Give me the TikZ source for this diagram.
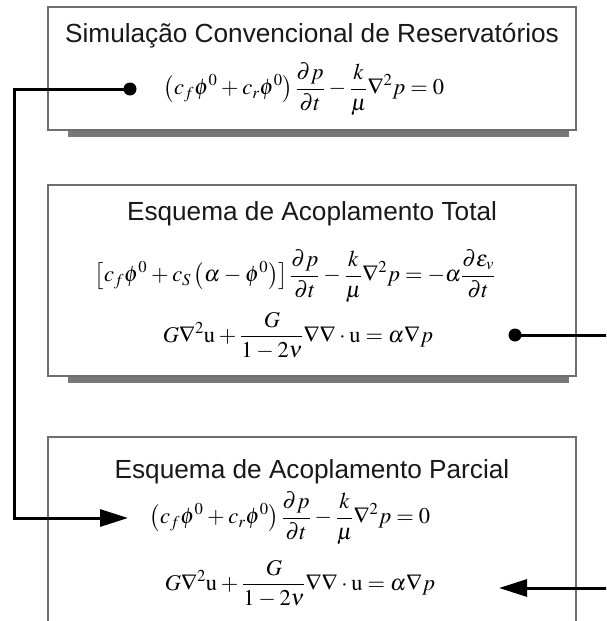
\documentclass[tikz,border=0pt]{standalone}
\usepackage{mathptmx}
\usepackage[no-math]{fontspec}
\newfontfamily\sansf{Liberation Sans}
\usetikzlibrary{arrows.meta}
\definecolor{boxgray}{RGB}{110,110,110}
\definecolor{shadowgray}{RGB}{120,120,120}
\newcommand{\tightmath}{\medmuskip=3mu plus 1mu minus 1mu\relax\thickmuskip=4mu plus 2mu\relax}
\begin{document}
\begin{tikzpicture}[x=1pt,y=-1pt,
  panel/.style={draw=boxgray, line width=1.5pt, fill=white, inner sep=0pt, rectangle},
  titletext/.style={font=\sansf\fontsize{26.2}{30}\selectfont, anchor=base, inner sep=0pt, text=black!90},
  eqn/.style={font=\fontsize{22.5}{26}\selectfont, inner sep=0pt, anchor=center},
  conn/.style={line width=3pt, black},
  arr/.style={conn, -{Triangle[length=28pt,width=17pt]}},
  dotmark/.style={fill=black}
]
\useasboundingbox (0,0) rectangle (606,621);
\clip (0,0) rectangle (606,621);
% shadows
\fill[shadowgray] (68,131) rectangle (569,137);
\fill[shadowgray] (68,377) rectangle (569,383);
% boxes
\node[panel, minimum width=528pt, minimum height=123pt] (b1) at (312,68.5) {};
\node[panel, minimum width=528pt, minimum height=191pt] (b2) at (312,280.5) {};
\node[panel, minimum width=528pt, minimum height=190pt] (b3) at (312,532) {};
% titles
\node[titletext] (t1) at (312,42) {Simulação Convencional de Reservatórios};
\node[titletext] (t2) at (312,220) {Esquema de Acoplamento Total};
\node[titletext] (t3) at (312,478) {Esquema de Acoplamento Parcial};
% equations
\node[eqn] (e1) at (304,89) {\tightmath$\displaystyle \left(c_f\phi^0+c_r\phi^0\right)\frac{\partial p}{\partial t}-\frac{k}{\mu}\nabla^2 p=0$};
\node[eqn] (e2) at (295,276) {\tightmath$\displaystyle \left[c_f\phi^0+c_S\left(\alpha-\phi^0\right)\right]\frac{\partial p}{\partial t}-\frac{k}{\mu}\nabla^2 p=-\alpha\frac{\partial \varepsilon_v}{\partial t}$};
\node[eqn] (e3) at (298,336) {\tightmath$\displaystyle G\nabla^2\mathrm{u}+\frac{G}{1-2\nu}\nabla\nabla\cdot\mathrm{u}=\alpha\nabla p$};
\node[eqn] (e4) at (290,518) {\tightmath$\displaystyle \left(c_f\phi^0+c_r\phi^0\right)\frac{\partial p}{\partial t}-\frac{k}{\mu}\nabla^2 p=0$};
\node[eqn] (e5) at (300,584) {\tightmath$\displaystyle G\nabla^2\mathrm{u}+\frac{G}{1-2\nu}\nabla\nabla\cdot\mathrm{u}=\alpha\nabla p$};
% connector points
\coordinate (d1) at (130,89);
\coordinate (a1) at (128,518);
\coordinate (d2) at (515,335);
\coordinate (a2) at (499,588);
\draw[arr] (d1) -- ++(-116,0) |- (a1);
\draw[arr] (d2) -- ++(110,0) |- (a2);
\fill[dotmark] (d1) circle (6.5);
\fill[dotmark] (d2) circle (6.5);
\end{tikzpicture}
\end{document}
